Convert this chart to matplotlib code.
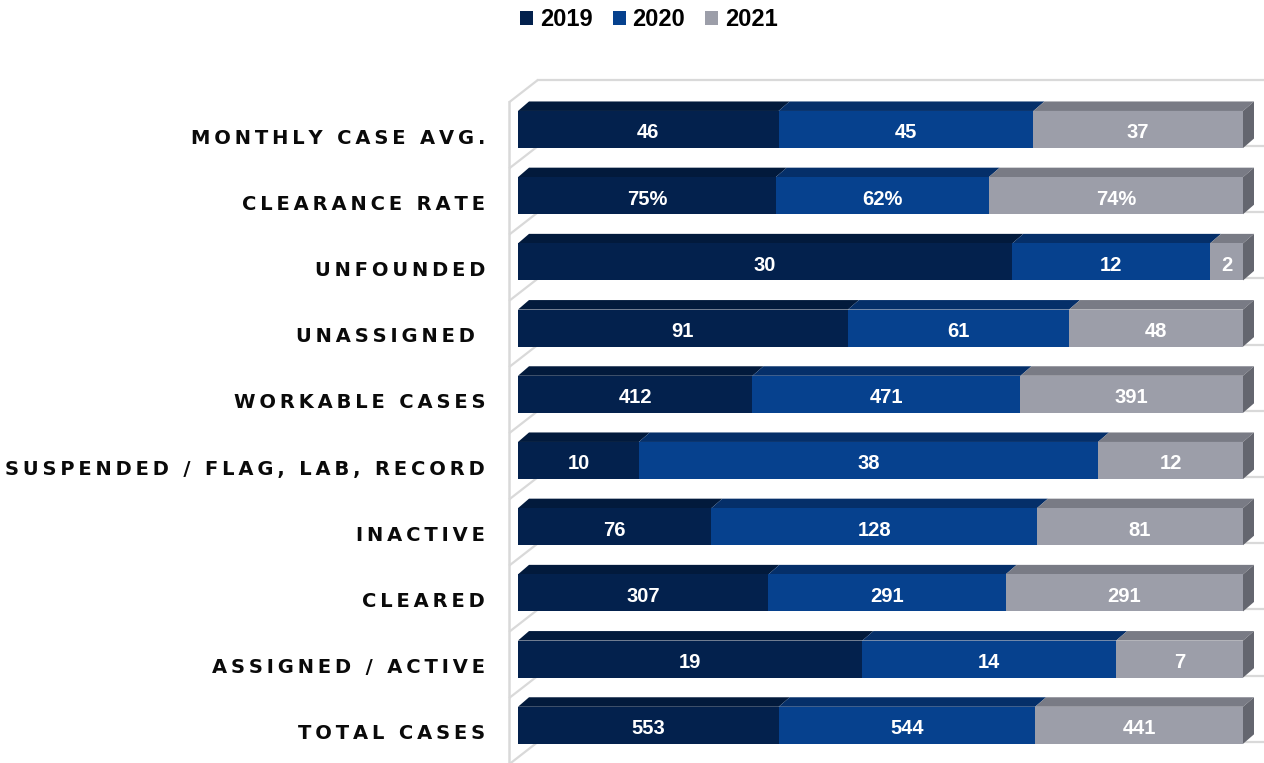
import matplotlib.pyplot as plt
from matplotlib.patches import Polygon, Patch
import numpy as np

categories = ["MONTHLY CASE AVG.", "CLEARANCE RATE", "UNFOUNDED", "UNASSIGNED ",
              "WORKABLE CASES", "SUSPENDED / FLAG, LAB, RECORD", "INACTIVE",
              "CLEARED", "ASSIGNED / ACTIVE", "TOTAL CASES"]
years = ["2019", "2020", "2021"]
v2019 = [46, 75, 30, 91, 412, 10, 76, 307, 19, 553]
v2020 = [45, 62, 12, 61, 471, 38, 128, 291, 14, 544]
v2021 = [37, 74, 2, 48, 391, 12, 81, 291, 7, 441]
percent_rows = ["CLEARANCE RATE"]

front = ['#03214D', '#06418E', '#9C9EA9']
top = ['#021A3C', '#052F69', '#797B85']
side = '#64666F'
wall = '#D9D9D9'

# pixel geometry of the plot, converted into data units below
W, H = 1264, 763
x0_px, x1_px = 518, 1243
y0_px, step_px = 129.5, 66.2
ux = x1_px - x0_px

fig = plt.figure(figsize=(W / 100, H / 100), dpi=100)
ax = fig.add_axes([0, 0, 1, 1])
ax.set_xlim(-x0_px / ux, (W - x0_px) / ux)
ax.set_ylim((H - y0_px) / step_px, -y0_px / step_px)
ax.axis('off')

dx = 11 / ux          # depth of the bars
dy = 9.5 / step_px
bh = 0.56             # bar height

n = len(categories)
y = np.arange(n)

# back wall and floor grid lines
wx0 = -9 / ux
wx1 = 20 / ux
for b in np.arange(-0.5, n, 1.0):
    ax.plot([wx0, wx1], [b + 0.09, b - 0.25], color=wall, lw=1.6, zorder=1,
            solid_capstyle='butt')
    ax.plot([wx1, ax.get_xlim()[1]], [b - 0.25, b - 0.25], color=wall, lw=1.6,
            zorder=1)
ax.plot([wx0, wx0], [-0.5 + 0.09, ax.get_ylim()[0]], color=wall, lw=1.8, zorder=1)

data = np.array([v2019, v2020, v2021], dtype=float)
shares = data / data.sum(axis=0)
lefts = np.vstack([np.zeros(n), np.cumsum(shares, axis=0)[:-1]])

for k in range(3):
    bars = ax.barh(y, shares[k], left=lefts[k], height=bh, color=front[k],
                   zorder=3, label=years[k])
    for i, bar in enumerate(bars):
        xl = bar.get_x()
        xr = xl + bar.get_width()
        yt = bar.get_y()
        ax.add_patch(Polygon([(xl, yt), (xr, yt), (xr + dx, yt - dy), (xl + dx, yt - dy)],
                             closed=True, facecolor=top[k], edgecolor='none', zorder=2))
        if k == 2:
            ax.add_patch(Polygon([(xr, yt), (xr + dx, yt - dy), (xr + dx, yt + bh - dy),
                                  (xr, yt + bh)],
                                 closed=True, facecolor=side, edgecolor='none', zorder=2))
        val = int(data[k, i])
        txt = f"{val}%" if categories[i] in percent_rows else f"{val}"
        ax.text((xl + xr) / 2, i + 0.05, txt, ha='center', va='center', color='white',
                fontsize=14.5, fontweight='bold', family='Liberation Sans', zorder=4)

# category labels with letter spacing
for i, cat in enumerate(categories):
    spaced = '\u2009'.join(cat)
    ax.text(-33 / ux, i + 0.13, spaced, ha='right', va='center', fontsize=14,
            fontweight='bold', color='#0A0A0A', family='DejaVu Sans')

handles = [Patch(facecolor=front[k], label=years[k]) for k in range(3)]
fig.legend(handles=handles, loc='center', bbox_to_anchor=(649 / W, 1 - 20 / H),
           ncol=3, frameon=False, handlelength=0.55, handleheight=0.55,
           handletextpad=0.3, columnspacing=0.85,
           prop={'family': 'Liberation Sans', 'weight': 'bold', 'size': 17})

fig.savefig('out.png', dpi=100)
